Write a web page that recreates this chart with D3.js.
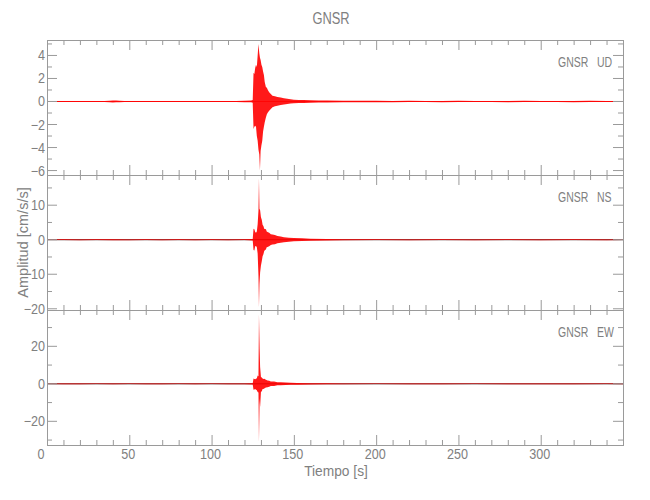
<!DOCTYPE html>
<html><head><meta charset="utf-8">
<script src="https://cdn.jsdelivr.net/npm/d3@7"></script>
<style>
body{margin:0;background:#fff}
text{font-family:"Liberation Sans Narrow","Liberation Sans",sans-serif;fill:#808080}
</style>
</head><body>
<svg id="c" width="650" height="500"></svg>
<script>
// ---------------- data ----------------
const station = "GNSR";
const components = ["UD", "NS", "EW"];
const xDomain = [0, 350];
const xMajor = [0, 50, 100, 150, 200, 250, 300];
const xMinor = [10,20,30,40,60,70,80,90,110,120,130,140,160,170,180,190,210,220,230,240,260,270,280,290,310,320,330,340];
const xTitle = "Tiempo [s]";
const yTitle = "Amplitud [cm/s/s]";

const udRange = [-6.43, 5.3];
const udMajor = [-6, -4, -2, 0, 2, 4];
const udMinor = [-5, -3, -1, 1, 3, 5];
const nsRange = [-20.5, 18.6];
const nsMajor = [-20, -10, 0, 10];
const nsMinor = [-15, -5, 5, 15];
const ewRange = [-32.9, 39.1];
const ewMajor = [-20, 0, 20];
const ewMinor = [-30, -10, 10, 30];

// envelope samples (time s, max, min) read from the record
const udT  = [0,5,10,15,20,25,30,35,38,40,42,44,47,50,55,60,65,70,75,80,85,90,95,100,105,110,115,120,124,125,125.5,126,126.5,127,127.5,128,128.5,129,129.4,129.8,130.3,130.8,131.3,131.8,132.3,133,133.6,134.2,135,136,137,138.5,140,142,144,146,148,150,153,156,160,165,170,180,190,200,210,220,230,240,250,260,270,280,290,300,310,320,330,340,350];
const udHi = [0.04,0.05,0.04,0.05,0.04,0.05,0.05,0.05,0.06,0.09,0.08,0.06,0.05,0.05,0.05,0.04,0.05,0.05,0.04,0.05,0.05,0.04,0.05,0.05,0.04,0.05,0.05,0.06,0.08,0.12,2.5,2.4,2.9,3.2,3.0,4.0,5.0,4.2,3.8,3.6,3.2,3.0,2.6,2.3,1.7,1.25,1.2,1.0,0.8,0.65,0.5,0.45,0.4,0.35,0.28,0.24,0.2,0.16,0.14,0.12,0.1,0.09,0.08,0.07,0.06,0.06,0.05,0.06,0.05,0.05,0.06,0.05,0.05,0.05,0.06,0.05,0.05,0.05,0.06,0.05,0.05];
const udLo = [-0.04,-0.04,-0.05,-0.05,-0.04,-0.05,-0.04,-0.05,-0.06,-0.08,-0.07,-0.06,-0.05,-0.05,-0.05,-0.05,-0.04,-0.05,-0.05,-0.04,-0.05,-0.05,-0.04,-0.05,-0.05,-0.04,-0.05,-0.06,-0.07,-0.1,-2.4,-2.2,-2.1,-2.2,-3.0,-3.4,-4.2,-4.6,-6.0,-4.3,-3.8,-3.4,-2.6,-2.2,-1.8,-1.4,-1.1,-0.95,-0.8,-0.65,-0.5,-0.42,-0.36,-0.3,-0.25,-0.22,-0.18,-0.15,-0.13,-0.12,-0.1,-0.09,-0.08,-0.07,-0.06,-0.06,-0.06,-0.05,-0.05,-0.06,-0.05,-0.05,-0.05,-0.06,-0.05,-0.05,-0.05,-0.06,-0.05,-0.05,-0.05];

const nsT  = [0,10,20,30,40,50,60,70,80,90,100,110,120,125,125.5,126,126.5,127,127.5,128,128.5,128.8,129.1,129.5,130,130.5,131,131.5,132,132.5,133,133.5,134,135,136,137,138.5,140,142,144,147,150,155,160,170,180,200,220,240,260,280,300,320,340,350];
const nsHi = [0.1,0.12,0.1,0.12,0.15,0.1,0.12,0.1,0.12,0.1,0.12,0.1,0.12,0.2,3.2,3.0,2.2,2.0,2.4,4.5,8.5,17.7,9.0,8.5,6.5,5.8,4.3,4.0,3.2,3.0,3.1,2.4,2.2,2.0,1.6,1.5,1.4,1.1,0.9,0.7,0.6,0.5,0.4,0.3,0.2,0.15,0.12,0.1,0.12,0.1,0.12,0.1,0.12,0.1,0.1];
const nsLo = [-0.1,-0.1,-0.12,-0.1,-0.15,-0.12,-0.1,-0.12,-0.1,-0.12,-0.1,-0.12,-0.1,-0.2,-3.0,-3.1,-1.9,-1.8,-2.2,-4.0,-10.5,-19.5,-12.8,-9.5,-7.5,-6.2,-4.8,-4.2,-3.3,-3.0,-2.8,-2.2,-2.1,-1.9,-1.5,-1.4,-1.3,-1.0,-0.9,-0.7,-0.6,-0.45,-0.4,-0.3,-0.2,-0.15,-0.1,-0.12,-0.1,-0.12,-0.1,-0.12,-0.1,-0.12,-0.1];

const ewT  = [0,10,20,30,40,50,60,70,80,90,100,110,120,125,125.5,126,126.5,127,127.5,128,128.5,128.8,129.2,129.5,130,130.5,131,131.5,132,133,134,135,136,138,140,142,145,148,152,160,170,180,200,220,240,260,280,300,320,340,350];
const ewHi = [0.2,0.15,0.2,0.2,0.15,0.2,0.15,0.2,0.2,0.15,0.2,0.15,0.2,0.3,2.8,2.6,2.4,2.7,3.0,4.4,4.0,37.0,18.7,9.0,3.6,3.4,2.8,2.6,2.7,2.2,1.8,1.6,1.3,1.2,0.9,0.8,0.7,0.6,0.5,0.35,0.25,0.2,0.2,0.15,0.2,0.2,0.15,0.2,0.15,0.2,0.2];
const ewLo = [-0.15,-0.2,-0.2,-0.15,-0.2,-0.15,-0.2,-0.2,-0.15,-0.2,-0.15,-0.2,-0.2,-0.3,-3.2,-3.0,-2.8,-3.1,-3.4,-4.4,-4.6,-31.0,-8.0,-12.4,-4.4,-4.0,-2.8,-2.7,-2.5,-2.0,-1.8,-1.6,-1.2,-1.1,-0.8,-0.7,-0.6,-0.5,-0.45,-0.35,-0.25,-0.2,-0.15,-0.2,-0.2,-0.15,-0.2,-0.2,-0.2,-0.15,-0.2];

// ---------------- drawing ----------------
const panels = [
  {comp: components[0], range: udRange, major: udMajor, minor: udMinor, t: udT, hi: udHi, lo: udLo, zc: "#ff2020"},
  {comp: components[1], range: nsRange, major: nsMajor, minor: nsMinor, t: nsT, hi: nsHi, lo: nsLo, zc: "#300000"},
  {comp: components[2], range: ewRange, major: ewMajor, minor: ewMinor, t: ewT, hi: ewHi, lo: ewLo, zc: "#300000"}
];

const svg = d3.select("#c");
const L = 47, R = 623, T0 = 40, PH = 135;
const AX = "#9a9a9a";
const x = d3.scaleLinear().domain(xDomain).range([L, R]);
const fmt = v => v < 0 ? "\u2212" + Math.abs(v) : String(v);

function txt(px, py, s, size, sx, anchor, rot) {
  return svg.append("text")
    .attr("transform", `translate(${px},${py})` + (rot ? ` rotate(${rot})` : "") + ` scale(${sx},1)`)
    .attr("text-anchor", anchor)
    .style("font-size", size + "px")
    .text(s);
}

function axis(g, gen, tf, vals, size) {
  const a = g.append("g").attr("transform", tf)
    .call(gen.tickValues(vals).tickSize(size).tickFormat(""));
  a.select(".domain").remove();
  a.selectAll("line").attr("stroke", AX);
}

panels.forEach((p, i) => {
  const top = T0 + i * PH, bot = top + PH;
  const y = d3.scaleLinear().domain(p.range).range([bot, top]);
  const g = svg.append("g");

  // zero line
  g.append("line").attr("x1", L).attr("x2", R)
    .attr("y1", y(0) + 0.5).attr("y2", y(0) + 0.5)
    .attr("stroke", p.zc).attr("stroke-width", 0.9);

  // waveform envelope
  const rows = p.t.map((t, j) => ({t, hi: p.hi[j], lo: p.lo[j]}));
  const area = d3.area().x(d => x(d.t)).y0(d => y(d.lo) + 0.5).y1(d => y(d.hi) + 0.5);
  g.append("path").attr("d", area(rows))
    .attr("fill", "#ff0000").attr("fill-opacity", 0.9);

  // frame
  g.append("rect").attr("x", L + 0.5).attr("y", top + 0.5)
    .attr("width", R - L).attr("height", PH)
    .attr("fill", "none").attr("stroke", AX);

  // ticks (inward)
  axis(g, d3.axisLeft(y), `translate(${L},0)`, p.major, -10);
  axis(g, d3.axisLeft(y), `translate(${L},0)`, p.minor, -5);
  axis(g, d3.axisRight(y), `translate(${R},0)`, p.major, -10);
  axis(g, d3.axisRight(y), `translate(${R},0)`, p.minor, -5);
  axis(g, d3.axisTop(x), `translate(0,${top})`, xMajor, -10);
  axis(g, d3.axisTop(x), `translate(0,${top})`, xMinor, -5);
  axis(g, d3.axisBottom(x), `translate(0,${bot})`, xMajor, -10);
  axis(g, d3.axisBottom(x), `translate(0,${bot})`, xMinor, -5);

  // y tick labels
  p.major.forEach(v => txt(45, y(v) + 5.5, fmt(v), 14, 0.9, "end"));

  // panel label
  txt(558, top + 26.7, station, 15, 0.7, "start");
  txt(597, top + 26.7, p.comp, 15, 0.7, "start");
});

// x tick labels on the bottom panel
const xb = T0 + 3 * PH;
xMajor.forEach(v => txt(x(v) + (v === 0 ? -6 : -1), xb + 13.5, fmt(v), 14, 0.9, "middle"));

// titles
txt(331, 24, station, 16.5, 0.78, "middle");
txt(336, 476, xTitle, 14.5, 0.95, "middle");
txt(27.5, 242.5, yTitle, 14.5, 1.0, "middle", -90);
</script>
</body></html>
